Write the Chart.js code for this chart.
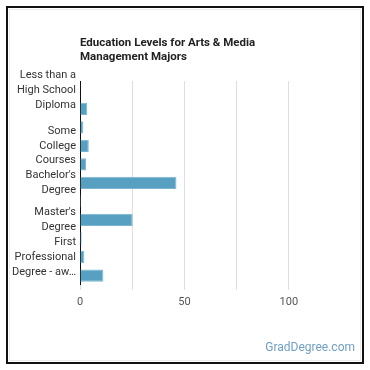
<!DOCTYPE html>
<html>
<head>
<meta charset="utf-8">
<script src="https://cdn.jsdelivr.net/npm/chart.js@4/dist/chart.umd.min.js"></script>
<style>
  html, body { margin: 0; padding: 0; background: #fff; }
  #wrap { position: relative; width: 370px; height: 370px; }
  #frame { position: absolute; left: 6px; top: 6px; width: 354px; height: 354px; border: 2px solid #111; box-sizing: content-box; pointer-events: none; }
  #inner { position: absolute; left: 9px; top: 9px; width: 350px; height: 350px; border: 1px solid #ececec; pointer-events: none; }
</style>
</head>
<body>
<div id="wrap">
  <canvas id="myChart" width="370" height="370"></canvas>
  <div id="frame"></div>
  <div id="inner"></div>
</div>
<script>
// data
var categories = [
  ['Less than a', 'High School', 'Diploma'],
  ['High School', 'Diploma'],
  ['Post-Secondary', 'Certificate'],
  ['Some', 'College', 'Courses'],
  ["Associate's", 'Degree'],
  ["Bachelor's", 'Degree'],
  ['Post-', 'Baccalaureate'],
  ["Master's", 'Degree'],
  ["Post-Master's", 'Certificate'],
  ['First', 'Professional', 'Degree - aw\u2026'],
  ['Doctoral', 'Degree']
];
var labelledRows = [0, 3, 5, 7, 9]; // only these names are shown on the axis
var percentages = [0.3, 3.5, 1.6, 4.2, 2.9, 46.2, 0.5, 25.2, 0.8, 2.1, 11.2];
var xTicksShown = [0, 50, 100];
var xMax = 125;
var titleLines = ['Education Levels for Arts & Media', 'Management Majors'];
var watermark = 'GradDegree.com';

var FONT = 'Roboto, "Noto Sans", sans-serif';

// title + site name drawn next to the plot
var textPlugin = {
  id: 'extraText',
  afterDraw: function (chart) {
    var c = chart.ctx;
    c.save();
    c.fillStyle = '#222';
    c.font = 'bold 11.5px ' + FONT;
    c.textBaseline = 'middle';
    c.textAlign = 'left';
    c.fillText(titleLines[0], chart.chartArea.left, 43);
    c.fillText(titleLines[1], chart.chartArea.left, 57);
    c.fillStyle = '#6f9fc4';
    c.font = '12px ' + FONT;
    c.textAlign = 'right';
    c.fillText(watermark, 355, 348);
    c.restore();
  }
};

var ctx = document.getElementById('myChart').getContext('2d');
var myChart = new Chart(ctx, {
  type: 'bar',
  data: {
    labels: categories,
    datasets: [{
      label: 'Percent',
      data: percentages,
      backgroundColor: '#58a0c1',
      borderColor: '#7ab6d2',
      borderWidth: 1,
      categoryPercentage: 0.8,
      barPercentage: 0.83
    }]
  },
  options: {
    indexAxis: 'y',
    responsive: false,
    animation: false,
    layout: { padding: { top: 81, right: 29, bottom: 55, left: 0 } },
    plugins: {
      legend: { display: false },
      tooltip: { enabled: false }
    },
    scales: {
      x: {
        min: 0,
        max: xMax,
        ticks: {
          stepSize: 25,
          autoSkip: false,
          padding: 6,
          color: '#555',
          font: { family: FONT, size: 11 },
          callback: function (v) {
            return xTicksShown.indexOf(v) >= 0 ? v : '';
          }
        },
        grid: {
          tickLength: 5,
          // no line on the right edge in the original
          color: function (c) {
            return c.tick && c.tick.value === xMax ? 'rgba(0,0,0,0)' : '#dedede';
          }
        },
        border: { display: false }
      },
      y: {
        afterFit: function (scale) { scale.width = 80; },
        ticks: {
          autoSkip: false,
          padding: 4,
          color: '#333',
          font: { family: FONT, size: 11, lineHeight: 1.35 },
          callback: function (v, i) {
            return labelledRows.indexOf(i) >= 0 ? categories[i] : '';
          }
        },
        grid: { display: false, drawTicks: false, tickLength: 0 },
        border: { display: true, color: '#111', width: 1 }
      }
    }
  },
  plugins: [textPlugin]
});
</script>
</body>
</html>
